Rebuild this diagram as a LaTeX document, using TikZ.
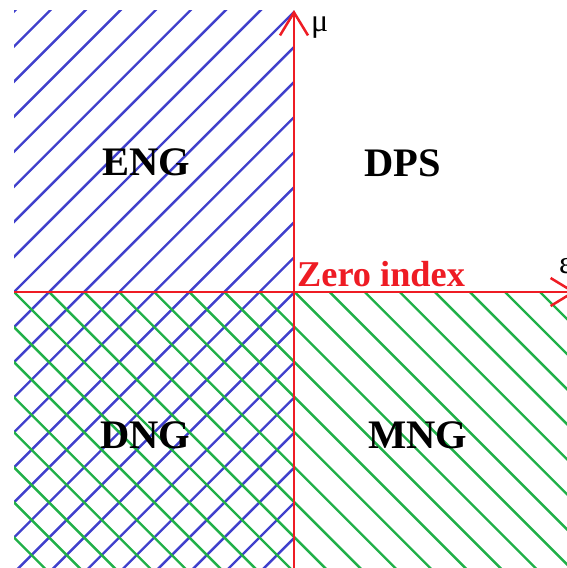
\documentclass[tikz,border=0pt]{standalone}
\usepackage{fontspec}
\setmainfont{Liberation Serif}
\usetikzlibrary{arrows.meta}
\definecolor{hblue}{RGB}{64,64,204}
\definecolor{hgreen}{RGB}{32,176,72}
\definecolor{axred}{RGB}{238,28,36}
\begin{document}
\begin{tikzpicture}[x=1pt,y=-1pt,
  hatchb/.style={hblue,line width=2.4pt},
  hatchg/.style={hgreen,line width=2.4pt},
  axisline/.style={axred,line width=2.5pt,-{Straight Barb[length=23pt,width=28pt,line width=2.5pt]}},
  region/.style={inner sep=0pt,anchor=base,font=\fontsize{40.5}{40}\selectfont\bfseries},
  axlabel/.style={inner sep=0pt,anchor=base west,font=\fontsize{32}{32}\selectfont}]
\useasboundingbox (0,0) rectangle (567,568);
\clip (0,0) rectangle (567,568);
% blue hatching (left half)
\begin{scope}
  \clip (14,10) rectangle (294,568);
  \foreach \k in {-9,...,16} {
    \draw[hatchb] ({306+35.07*\k-600},600) -- ({306+35.07*\k},0);
  }
\end{scope}
% green hatching (bottom half)
\begin{scope}
  \clip (14,292) rectangle (567,568);
  \foreach \k in {-9,...,17} {
    \draw[hatchg] ({-278+35.07*\k+292},292) -- ({-278+35.07*\k+600},600);
  }
\end{scope}
% axes
\coordinate (ybot) at (294,568);
\coordinate (ytop) at (294,10);
\coordinate (xleft) at (14,292);
\coordinate (xright) at (576,292);
\draw[axisline] (ybot) -- (ytop);
\draw[axisline] (xleft) -- (xright);
% labels
\node[axlabel] (mu) at (311,31) {μ};
\node[axlabel] (eps) at (559,273) {ε};
\node[region] (eng) at (146,175) {ENG};
\node[region] (dps) at (403,176) {DPS};
\node[region] (dng) at (145,448) {DNG};
\node[region] (mng) at (418,448) {MNG};
\node[inner sep=0pt,anchor=base west,text=axred,font=\fontsize{36.3}{36}\selectfont\bfseries] (zero) at (297,286) {Zero index};
\end{tikzpicture}
\end{document}
